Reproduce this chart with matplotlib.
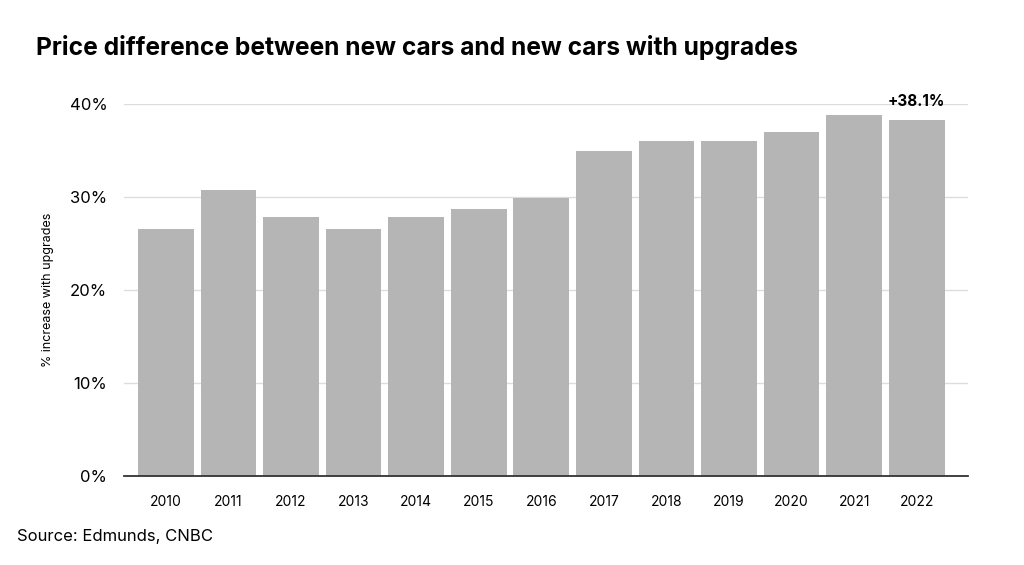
import matplotlib
matplotlib.use('Agg')
import matplotlib.pyplot as plt

plt.rcParams['font.family'] = ['Inter', 'DejaVu Sans']

years = ['2010', '2011', '2012', '2013', '2014', '2015', '2016',
         '2017', '2018', '2019', '2020', '2021', '2022']
pct_increase = [26.6, 30.7, 27.8, 26.6, 27.8, 28.7, 29.9,
                34.9, 36.0, 36.0, 37.0, 38.8, 38.3]
last_label = '+38.1%'
y_ticks = [0, 10, 20, 30, 40]

fig = plt.figure(figsize=(10.24, 5.65), dpi=100)
ax = fig.add_axes([124 / 1024, 1 - 476 / 565, (968 - 124) / 1024, (476 - 104) / 565])

x = range(len(years))
ax.bar(x, pct_increase, width=0.89, color='#b5b5b5', zorder=2)

ax.set_ylim(0, 40)
ax.set_xlim(-0.67, len(years) - 1 + 0.82)
ax.set_yticks(y_ticks)
ax.set_yticklabels([f'{t}%' for t in y_ticks], fontsize=12)
ax.set_xticks(list(x))
ax.set_xticklabels(years, fontsize=10)
ax.tick_params(axis='both', length=0)
ax.tick_params(axis='x', pad=14)
ax.tick_params(axis='y', pad=12)
ax.grid(axis='y', color='#dddddd', linewidth=1, zorder=0)
ax.set_axisbelow(True)
for s in ['top', 'right', 'left']:
    ax.spines[s].set_visible(False)
ax.spines['bottom'].set_color('#333333')
ax.spines['bottom'].set_linewidth(1.3)
ax.spines['bottom'].set_zorder(3)

ax.set_ylabel('% increase with upgrades', fontsize=9, labelpad=11)

# annotation on the last bar, sits on the top gridline
ax.text(len(years) - 1, 40.3, last_label, ha='center', va='center',
        fontsize=11, fontweight='bold')

fig.text(36 / 1024, 1 - 47 / 565, 'Price difference between new cars and new cars with upgrades',
         fontsize=17.7, fontweight='bold', va='center', ha='left')
fig.text(17 / 1024, 1 - 536 / 565, 'Source: Edmunds, CNBC', fontsize=12, va='center', ha='left')

fig.savefig('out.png', dpi=100)
